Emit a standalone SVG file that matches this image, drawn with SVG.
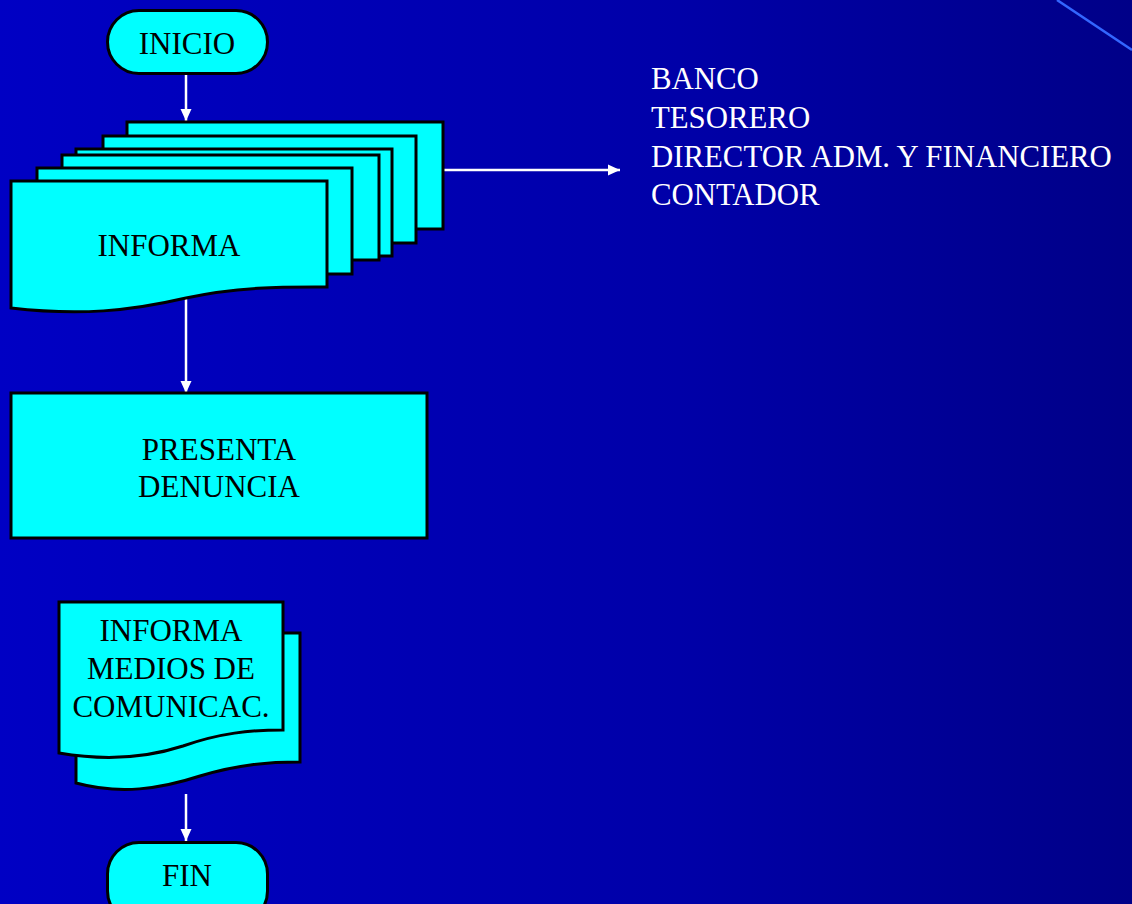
<svg xmlns="http://www.w3.org/2000/svg" width="1132" height="904" viewBox="0 0 1132 904">
<defs>
<linearGradient id="bg" x1="0" y1="0" x2="1" y2="0">
<stop offset="0" stop-color="#0000C4"/>
<stop offset="0.6" stop-color="#0000A8"/>
<stop offset="1" stop-color="#000088"/>
</linearGradient>
<marker id="ah" viewBox="0 0 12 12" refX="12" refY="6" markerWidth="12" markerHeight="12" markerUnits="userSpaceOnUse" orient="auto">
<path d="M0,0.5 L12,6 L0,11.5 Z" fill="#FFFFFF"/>
</marker>
<style>
.shape{fill:#00FFFF;stroke:#000000;stroke-width:3;stroke-linejoin:miter}
.lbl{font-family:"Liberation Serif","Times New Roman",serif;font-size:31px;fill:#000000;text-anchor:middle}
.side{font-family:"Liberation Serif","Times New Roman",serif;font-size:30.8px;fill:#FFFFFF}
.con{stroke:#FFFFFF;stroke-width:2.5;fill:none;marker-end:url(#ah)}
</style>
</defs>
<rect x="0" y="0" width="1132" height="904" fill="url(#bg)"/>
<line x1="1057" y1="0" x2="1132" y2="50" stroke="#3366FF" stroke-width="2.5"/>

<g id="connectors">
<line class="con" x1="186" y1="75" x2="186" y2="121"/>
<line class="con" x1="443" y1="170" x2="620" y2="170"/>
<line class="con" x1="186" y1="298" x2="186" y2="393"/>
<line class="con" x1="186" y1="794" x2="186" y2="841"/>
</g>

<g id="inicio">
<rect class="shape" x="107.5" y="10.5" width="160" height="63" rx="31.5"/>
<text class="lbl" x="187" y="54">INICIO</text>
</g>

<g id="informa">
<rect class="shape" x="127" y="122" width="316" height="107"/>
<rect class="shape" x="103" y="136" width="313" height="107"/>
<rect class="shape" x="76" y="149" width="316" height="107"/>
<rect class="shape" x="62" y="155" width="317" height="105"/>
<rect class="shape" x="37" y="168" width="315" height="106"/>
<path class="shape" d="M11,181 L327,181 L327,287 C290,287 240,286 186,298 C130,311 80,316 11,308 Z"/>
<text class="lbl" x="169" y="256">INFORMA</text>
</g>

<g id="denuncia">
<rect class="shape" x="11" y="393" width="416" height="145"/>
<text class="lbl" x="219" y="460">PRESENTA</text>
<text class="lbl" x="219" y="497">DENUNCIA</text>
</g>

<g id="medios">
<path class="shape" d="M76,633 L300,633 L300,762 C270,762 240,764 200,776 C160,789 120,795 76,783 Z"/>
<path class="shape" d="M59,602 L283,602 L283,730 C250,730 220,733 183,746 C140,760 100,760 59,753 Z"/>
<text class="lbl" x="171" y="641">INFORMA</text>
<text class="lbl" x="171" y="679">MEDIOS DE</text>
<text class="lbl" x="171" y="717">COMUNICAC.</text>
</g>

<g id="fin">
<rect class="shape" x="107.5" y="842.5" width="160" height="80" rx="31.5"/>
<text class="lbl" x="187" y="886">FIN</text>
</g>

<g id="destinatarios">
<text class="side" x="651" y="89">BANCO</text>
<text class="side" x="651" y="128">TESORERO</text>
<text class="side" x="651" y="167">DIRECTOR ADM. Y FINANCIERO</text>
<text class="side" x="651" y="205">CONTADOR</text>
</g>
</svg>
